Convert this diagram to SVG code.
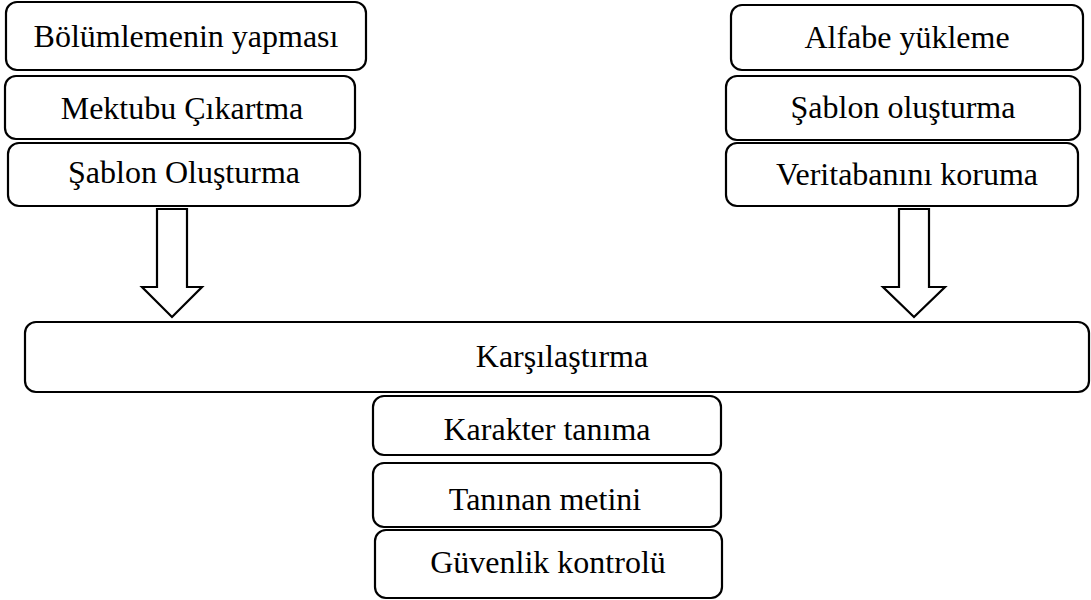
<svg xmlns="http://www.w3.org/2000/svg" width="1091" height="600" viewBox="0 0 1091 600">
<style>
.box{fill:#fff;stroke:#000;stroke-width:2.2}
.lbl{font-family:"Liberation Serif","Times New Roman",serif;font-size:32px;fill:#000;text-anchor:middle}
.arr{fill:#fff;stroke:#000;stroke-width:2.2;stroke-linejoin:miter}
</style>
<rect width="1091" height="600" fill="#fff"/>
<g id="connectors">
<path class="arr" d="M157,209 H187 V287 H202 L172,317 L142,287 H157 Z"/>
<path class="arr" d="M899,209 H929 V287 H945 L914,317 L883,287 H899 Z"/>
</g>
<g id="n1"><rect class="box" x="6" y="2" width="360" height="68" rx="11"/><text class="lbl" x="186" y="47">Bölümlemenin yapması</text></g>
<g id="n2"><rect class="box" x="5" y="76" width="350" height="63" rx="11"/><text class="lbl" x="182" y="119">Mektubu Çıkartma</text></g>
<g id="n3"><rect class="box" x="8" y="143" width="352" height="63" rx="11"/><text class="lbl" x="184" y="183">Şablon Oluşturma</text></g>
<g id="n4"><rect class="box" x="731" y="5" width="352" height="65" rx="11"/><text class="lbl" x="907" y="48">Alfabe yükleme</text></g>
<g id="n5"><rect class="box" x="726" y="76" width="354" height="64" rx="11"/><text class="lbl" x="903" y="118">Şablon oluşturma</text></g>
<g id="n6"><rect class="box" x="726" y="143" width="352" height="63" rx="11"/><text class="lbl" x="907" y="185">Veritabanını koruma</text></g>
<g id="n7"><rect class="box" x="25" y="322" width="1064" height="70" rx="11"/><text class="lbl" x="562" y="367">Karşılaştırma</text></g>
<g id="n8"><rect class="box" x="373" y="396" width="348" height="59" rx="11"/><text class="lbl" x="547" y="440">Karakter tanıma</text></g>
<g id="n9"><rect class="box" x="373" y="463" width="348" height="64" rx="11"/><text class="lbl" x="545" y="510">Tanınan metini</text></g>
<g id="n10"><rect class="box" x="375" y="530" width="347" height="68" rx="11"/><text class="lbl" x="548" y="573">Güvenlik kontrolü</text></g>
</svg>
